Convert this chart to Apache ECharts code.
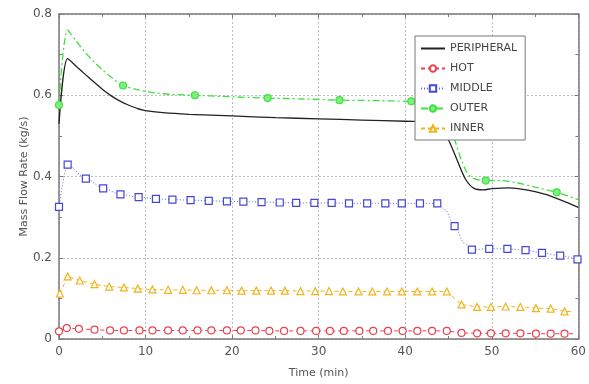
<!DOCTYPE html>
<html>
<head>
<meta charset="utf-8">
<script src="https://cdn.jsdelivr.net/npm/echarts@6/dist/echarts.min.js"></script>
<style>
  html, body { margin: 0; padding: 0; background: #fff; }
  #chart { width: 589px; height: 384px; }
</style>
</head>
<body>
<div id="chart"></div>
<script>
// Mass flow rate per channel group over time
const seriesNames = ['PERIPHERAL', 'HOT', 'MIDDLE', 'OUTER', 'INNER'];

const peripheralTimes  = [0, 1, 2, 3, 4, 5, 6, 7, 8, 9, 10, 12, 15, 20, 25, 30, 35, 40, 43, 44, 45, 46, 47, 48, 49, 50, 52, 54, 56, 58, 60];
const peripheralValues = [0.530, 0.690, 0.671, 0.652, 0.633, 0.615, 0.599, 0.586, 0.576, 0.568, 0.562, 0.557, 0.553, 0.549, 0.545, 0.542, 0.539, 0.536, 0.534, 0.524, 0.490, 0.440, 0.392, 0.370, 0.367, 0.370, 0.372, 0.367, 0.357, 0.342, 0.324];

const hotTimes  = [0, 0.9, 2.3, 4.1, 5.9, 7.5, 9.3, 10.8, 12.6, 14.3, 16.0, 17.6, 19.4, 21.0, 22.7, 24.3, 26.0, 27.9, 29.7, 31.3, 32.9, 34.7, 36.3, 38.0, 39.7, 41.4, 43.1, 44.8, 46.5, 48.3, 49.9, 51.6, 53.3, 55.1, 56.8, 58.4, 59.5];
const hotValues = [0.019, 0.027, 0.025, 0.023, 0.021, 0.021, 0.021, 0.021, 0.021, 0.021, 0.021, 0.021, 0.021, 0.021, 0.021, 0.020, 0.020, 0.020, 0.020, 0.020, 0.020, 0.020, 0.020, 0.020, 0.020, 0.020, 0.020, 0.020, 0.015, 0.014, 0.014, 0.014, 0.014, 0.013, 0.013, 0.013, 0.013];
const hotMarkerCount = 36;

const middleTimes  = [0, 1.0, 3.1, 5.1, 7.1, 9.2, 11.2, 13.1, 15.2, 17.3, 19.4, 21.3, 23.4, 25.5, 27.4, 29.5, 31.5, 33.5, 35.6, 37.7, 39.6, 41.7, 43.7, 44.6, 45.7, 46.8, 47.7, 49.7, 51.8, 53.9, 55.8, 57.9, 59.9];
const middleValues = [0.325, 0.429, 0.395, 0.371, 0.356, 0.349, 0.345, 0.343, 0.342, 0.340, 0.339, 0.338, 0.337, 0.336, 0.335, 0.335, 0.335, 0.334, 0.334, 0.334, 0.334, 0.334, 0.334, 0.318, 0.278, 0.236, 0.220, 0.222, 0.222, 0.219, 0.212, 0.205, 0.196];
const middleUnmarked = [44.6, 46.8];

const outerTimes  = [0, 1, 2, 3, 4, 5, 6, 7.4, 9, 11, 13, 15.7, 19, 24.1, 28, 32.4, 36, 40.7, 43.5, 44.5, 45.5, 46.5, 47.5, 49.3, 51, 53, 55, 57.5, 60];
const outerValues = [0.576, 0.760, 0.733, 0.706, 0.683, 0.663, 0.645, 0.624, 0.614, 0.606, 0.602, 0.600, 0.597, 0.593, 0.591, 0.588, 0.587, 0.585, 0.583, 0.565, 0.505, 0.440, 0.400, 0.390, 0.390, 0.384, 0.374, 0.361, 0.343];
const outerMarked = [0, 7.4, 15.7, 24.1, 32.4, 40.7, 49.3, 57.5];

const innerTimes  = [0.1, 1.0, 2.4, 4.1, 5.8, 7.5, 9.1, 10.8, 12.6, 14.3, 15.9, 17.6, 19.4, 21.1, 22.8, 24.5, 26.1, 27.9, 29.6, 31.2, 32.8, 34.6, 36.2, 37.9, 39.6, 41.4, 43.1, 44.8, 46.5, 48.3, 49.9, 51.6, 53.3, 55.1, 56.8, 58.4, 59.5];
const innerValues = [0.112, 0.154, 0.144, 0.135, 0.129, 0.127, 0.124, 0.122, 0.121, 0.121, 0.120, 0.120, 0.120, 0.119, 0.119, 0.119, 0.119, 0.118, 0.118, 0.118, 0.117, 0.117, 0.117, 0.117, 0.117, 0.117, 0.117, 0.117, 0.085, 0.079, 0.079, 0.080, 0.079, 0.076, 0.075, 0.068, 0.067];
const innerMarkerCount = 36;

const xTicks = [0, 10, 20, 30, 40, 50, 60];
const yTicks = [0, 0.2, 0.4, 0.6, 0.8];

function points(times, values, isMarked) {
  return times.map((t, i) => {
    const item = { value: [t, values[i]] };
    if (!isMarked(t, i)) item.symbol = 'none';
    return item;
  });
}

const frameColor = '#7a7a7a';
const labelColor = '#555';

function axisBase(extra) {
  return Object.assign({
    type: 'value',
    axisLine: { show: true, onZero: false, lineStyle: { color: frameColor, width: 1.5 } },
    axisTick: { show: true, inside: true, length: 4, lineStyle: { color: frameColor } },
    minorTick: { show: true, splitNumber: 2, length: 3, lineStyle: { color: frameColor } },
    splitLine: { show: false },
    axisLabel: { show: false }
  }, extra);
}

const chart = echarts.init(document.getElementById('chart'), null, { renderer: 'canvas' });

chart.setOption({
  backgroundColor: '#fff',
  animation: false,
  grid: { left: 59, right: 9, top: 14, bottom: 41, containLabel: false },
  xAxis: [
    axisBase({
      min: xTicks[0], max: xTicks[xTicks.length - 1], interval: 10, position: 'bottom',
      name: 'Time (min)', nameLocation: 'middle', nameGap: 29, nameMoveOverlap: false,
      nameTextStyle: { color: '#555', fontSize: 11, fontFamily: 'DejaVu Sans' },
      axisLabel: { show: true, color: labelColor, fontSize: 12, margin: 7, fontFamily: 'DejaVu Sans' },
      splitLine: { show: true, lineStyle: { color: '#bdbdbd', type: [2, 2], width: 1 } }
    }),
    axisBase({ min: xTicks[0], max: xTicks[xTicks.length - 1], interval: 10, position: 'top' })
  ],
  yAxis: [
    axisBase({
      min: yTicks[0], max: yTicks[yTicks.length - 1], interval: 0.2, position: 'left',
      name: 'Mass Flow Rate (kg/s)', nameLocation: 'middle', nameGap: 29, nameRotate: 90, nameMoveOverlap: false,
      nameTextStyle: { color: '#555', fontSize: 11, fontFamily: 'DejaVu Sans' },
      axisLabel: { show: true, color: labelColor, fontSize: 12, margin: 7, fontFamily: 'DejaVu Sans' },
      splitLine: { show: true, lineStyle: { color: '#bdbdbd', type: [2, 2], width: 1 } }
    }),
    axisBase({ min: yTicks[0], max: yTicks[yTicks.length - 1], interval: 0.2, position: 'right' })
  ],
  legend: {
    orient: 'vertical',
    left: 415, top: 36,
    padding: [7, 8, 6, 5],
    itemWidth: 24, itemHeight: 8, itemGap: 9,
    backgroundColor: '#fff',
    borderColor: '#777', borderWidth: 1,
    textStyle: { color: '#444', fontSize: 11, fontFamily: 'DejaVu Sans' },
    data: [
      { name: seriesNames[0], itemStyle: { opacity: 0 } },
      seriesNames[1], seriesNames[2], seriesNames[3], seriesNames[4]
    ],
    z: 10
  },
  series: [
    {
      name: seriesNames[0], type: 'line', smooth: 0.3,
      symbol: 'none', color: '#222',
      lineStyle: { color: '#222', width: 1.3 },
      data: points(peripheralTimes, peripheralValues, () => false)
    },
    {
      name: seriesNames[1], type: 'line',
      symbol: 'circle', symbolSize: 7, color: '#e8434f',
      itemStyle: { color: '#fff', borderColor: '#e8434f', borderWidth: 1.2 },
      lineStyle: { color: '#e8434f', width: 1, type: [4, 3] },
      data: points(hotTimes, hotValues, (t, i) => i < hotMarkerCount)
    },
    {
      name: seriesNames[2], type: 'line', smooth: 0.3, smoothMonotone: 'x',
      symbol: 'rect', symbolSize: 7, color: '#4646d8',
      itemStyle: { color: '#fff', borderColor: '#4646d8', borderWidth: 1.2 },
      lineStyle: { color: '#6a6ae0', width: 1, type: [1, 2] },
      data: points(middleTimes, middleValues, (t) => middleUnmarked.indexOf(t) < 0)
    },
    {
      name: seriesNames[3], type: 'line', smooth: 0.3,
      symbol: 'circle', symbolSize: 7, color: '#3fe03f',
      itemStyle: { color: '#7cf07c', borderColor: '#3fe03f', borderWidth: 1.2 },
      lineStyle: { color: '#3fe03f', width: 1.3, type: [7, 3, 2, 3] },
      data: points(outerTimes, outerValues, (t) => outerMarked.indexOf(t) >= 0)
    },
    {
      name: seriesNames[4], type: 'line',
      symbol: 'triangle', symbolSize: 7, color: '#f2b41e',
      itemStyle: { color: '#fff', borderColor: '#f2b41e', borderWidth: 1.2 },
      lineStyle: { color: '#f2b41e', width: 1, type: [4, 3] },
      data: points(innerTimes, innerValues, (t, i) => i < innerMarkerCount)
    }
  ]
});
</script>
</body>
</html>
